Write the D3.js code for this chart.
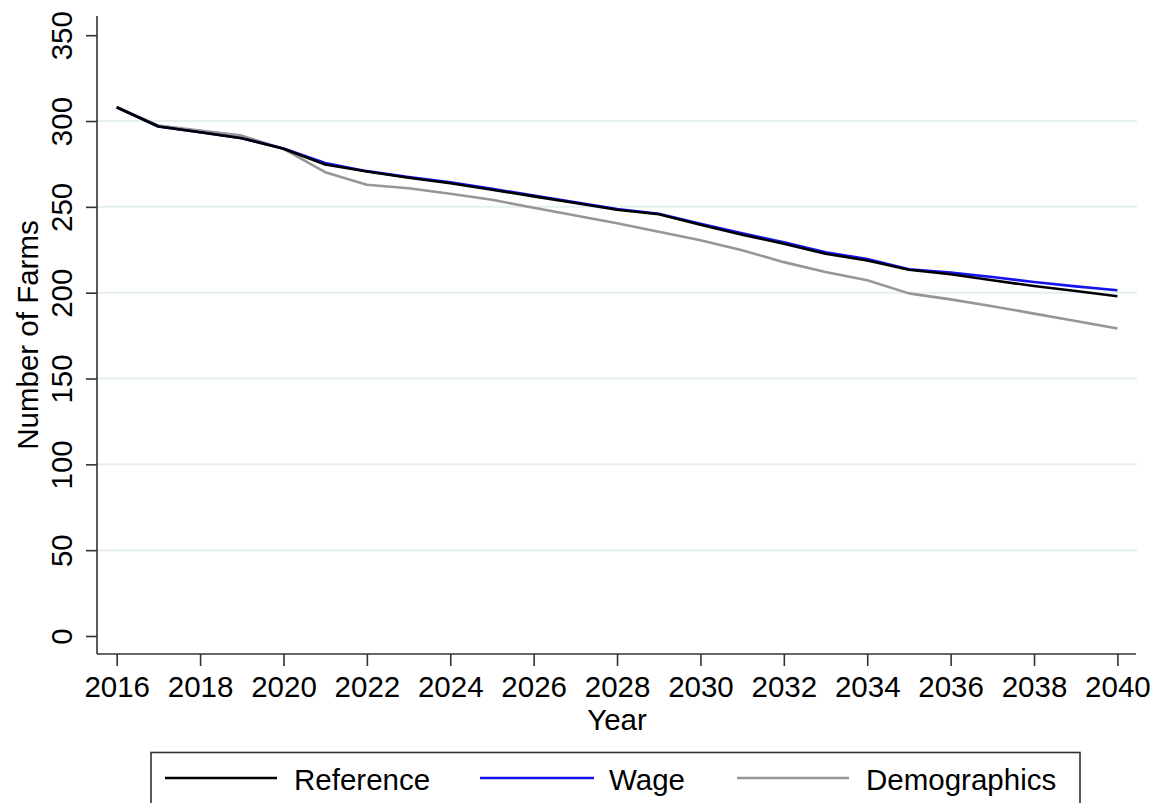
<!DOCTYPE html>
<html>
<head>
<meta charset="utf-8">
<script src="https://cdn.jsdelivr.net/npm/d3@7"></script>
<style>
  html, body { margin: 0; padding: 0; background: #fff; }
  svg { display: block; font-family: "Liberation Sans", Arial, sans-serif; }
</style>
</head>
<body>
<svg id="chart" width="1155" height="803"></svg>
<script>
// Projected number of farms by year under three scenarios
const years = d3.range(2016, 2041);
const referenceFarms = [308, 296.8, 293.5, 290, 283.8, 274.7, 270.6, 267, 263.8, 260, 256.1, 252.2, 248.3, 245.7,
  239.6, 233.8, 228.5, 222.7, 218.8, 213.4, 210.7, 207.2, 203.9, 201, 197.9];
const wageFarms = [308, 296.8, 293.5, 290, 284, 275.5, 270.8, 267.3, 264.3, 260.5, 256.6, 252.6, 248.8, 246,
  240.2, 234.6, 229.4, 223.6, 219.6, 213.6, 211.7, 209.1, 206.2, 203.7, 201.4];
const demographicsFarms = [308, 297.4, 294.5, 291.5, 283.8, 270.2, 262.9, 260.8, 257.6, 254.1, 249.5, 245, 240.5, 235.5,
  230.5, 224.7, 217.8, 212, 207.2, 199.6, 196.1, 192.1, 187.8, 183.5, 179.1];
const yTicks = [0, 50, 100, 150, 200, 250, 300, 350];
const xTicks = d3.range(2016, 2041, 2);

const series = [
  { name: "Reference", values: referenceFarms, color: "#000000" },
  { name: "Wage", values: wageFarms, color: "#1414f0" },
  { name: "Demographics", values: demographicsFarms, color: "#969696" }
];
// draw order: demographics underneath, then wage, then reference on top
const drawOrder = [series[2], series[1], series[0]];

const svg = d3.select("#chart");
const FONT = 29.5;
const axisColor = "#333333";

const x = d3.scaleLinear().domain([2016, 2040]).range([116.7, 1117.4]);
const y = d3.scaleLinear().domain([0, 350]).range([636, 35.2]);

const plotLeft = 97, plotRight = 1137, plotTop = 16, plotBottom = 654;

// horizontal gridlines
svg.append("g")
  .selectAll("line")
  .data(yTicks.filter(d => d > 0 && d < 350))
  .join("line")
  .attr("x1", plotLeft).attr("x2", plotRight)
  .attr("y1", d => y(d)).attr("y2", d => y(d))
  .attr("stroke", "#e6eff0")
  .attr("stroke-width", 2);

// y axis
const yAxis = svg.append("g")
  .attr("transform", `translate(${plotLeft},0)`)
  .call(d3.axisLeft(y).tickValues(yTicks).tickSize(11).tickPadding(0).tickFormat(d3.format("d")));
yAxis.select(".domain").remove();
yAxis.selectAll(".tick line").attr("stroke", axisColor).attr("stroke-width", 1.6);
yAxis.selectAll(".tick text")
  .attr("x", null).attr("dy", null)
  .attr("transform", "translate(-25,0) rotate(-90)")
  .attr("text-anchor", "middle")
  .attr("fill", "#000")
  .style("font-size", FONT + "px");
svg.append("line")
  .attr("x1", plotLeft).attr("x2", plotLeft)
  .attr("y1", plotTop).attr("y2", plotBottom)
  .attr("stroke", axisColor).attr("stroke-width", 1.6);

// x axis
const xAxis = svg.append("g")
  .attr("transform", `translate(0,${plotBottom})`)
  .call(d3.axisBottom(x).tickValues(xTicks).tickSize(12).tickPadding(0).tickFormat(d3.format("d")));
xAxis.select(".domain").remove();
xAxis.selectAll(".tick line").attr("stroke", axisColor).attr("stroke-width", 1.6);
xAxis.selectAll(".tick text")
  .attr("y", 43).attr("dy", null)
  .attr("fill", "#000")
  .style("font-size", FONT + "px");
svg.append("line")
  .attr("x1", plotLeft).attr("x2", plotRight - 1)
  .attr("y1", plotBottom).attr("y2", plotBottom)
  .attr("stroke", axisColor).attr("stroke-width", 1.6);

// axis titles
svg.append("text")
  .attr("x", (plotLeft + plotRight) / 2).attr("y", 730)
  .attr("text-anchor", "middle")
  .style("font-size", FONT + "px")
  .text("Year");
svg.append("text")
  .attr("transform", `translate(38,${(plotTop + plotBottom) / 2}) rotate(-90)`)
  .attr("text-anchor", "middle")
  .style("font-size", FONT + "px")
  .text("Number of Farms");

// series lines
const line = d3.line()
  .x((d, i) => x(years[i]))
  .y(d => y(d));
svg.append("g")
  .selectAll("path")
  .data(drawOrder)
  .join("path")
  .attr("d", d => line(d.values))
  .attr("fill", "none")
  .attr("stroke", d => d.color)
  .attr("stroke-width", 2.6)
  .attr("stroke-linejoin", "round");

// legend
const legend = svg.append("g");
legend.append("rect")
  .attr("x", 151).attr("y", 752.5)
  .attr("width", 929).attr("height", 80)
  .attr("fill", "#fff")
  .attr("stroke", axisColor).attr("stroke-width", 1.6);
const legendPos = [
  { x1: 165, x2: 277, tx: 294 },
  { x1: 480, x2: 594, tx: 609 },
  { x1: 737, x2: 849, tx: 866 }
];
series.forEach((s, i) => {
  const p = legendPos[i];
  legend.append("line")
    .attr("x1", p.x1).attr("x2", p.x2)
    .attr("y1", 778).attr("y2", 778)
    .attr("stroke", s.color).attr("stroke-width", 2.6);
  legend.append("text")
    .attr("x", p.tx).attr("y", 790)
    .style("font-size", FONT + "px")
    .text(s.name);
});
</script>
</body>
</html>
